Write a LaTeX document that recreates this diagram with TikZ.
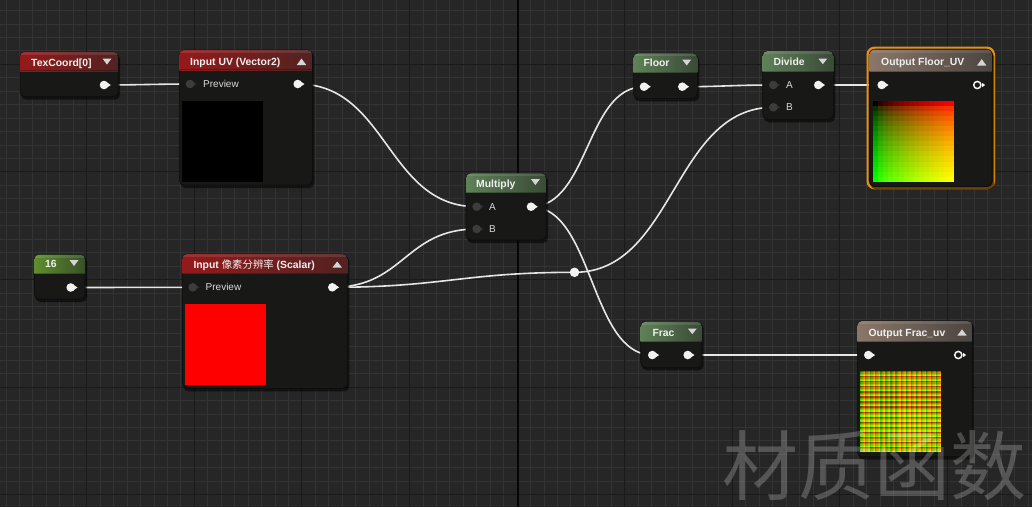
\documentclass[tikz,border=0pt]{standalone}
\usepackage{fontspec}
\setmainfont{Liberation Sans}
\newfontfamily\cjk{Noto Sans CJK SC}
\usetikzlibrary{fit}
\definecolor{bg}{HTML}{262626}
\definecolor{gridminor}{HTML}{333333}
\definecolor{gridmajor}{HTML}{1A1A1A}
\definecolor{gridorigin}{HTML}{060606}
\definecolor{bodycol}{HTML}{181917}
\definecolor{bordercol}{HTML}{0C0C0C}
\definecolor{redL}{HTML}{951A1A}
\definecolor{redR}{HTML}{522222}
\definecolor{grnL}{HTML}{5F8158}
\definecolor{grnR}{HTML}{3A4A37}
\definecolor{cstL}{HTML}{5E8F2C}
\definecolor{cstR}{HTML}{38502A}
\definecolor{outL}{HTML}{8A7769}
\definecolor{outR}{HTML}{4B4440}
\definecolor{pinfg}{HTML}{F2F2F2}
\definecolor{pingray}{HTML}{3C3C3C}
\definecolor{pingraytip}{HTML}{2E2E2E}
\definecolor{wirecol}{HTML}{E6E6E6}
\definecolor{selcol}{HTML}{E8900A}
\definecolor{tricol}{HTML}{D6D6D6}
\tikzset{
  uebody/.style={rounded corners=5pt, fill=bodycol, draw=bordercol, line width=0.6pt, inner sep=0pt},
  ttl/.style={anchor=base west, inner sep=0pt, text=white!94!black, font=\bfseries\fontsize{10.4}{12}\selectfont},
  lbl/.style={anchor=base west, inner sep=0pt, text=white!85!black, font=\fontsize{10}{12}\selectfont},
  wire/.style={draw=wirecol, line width=1.6pt},
  minorline/.style={draw=gridminor, line width=0.9pt},
  majorline/.style={draw=gridmajor, line width=1.1pt},
}
\newcommand{\uenode}[8]{%
  \fill[black,opacity=0.55,rounded corners=5pt] (#2+1,#3+2) rectangle (#4+2,#5+3);
  \node[uebody, fit={(#2,#3) (#4,#5)}] (#1) {};
  \begin{scope}
    \clip[rounded corners=5pt] (#2,#3) rectangle (#4,#5);
    \shade[left color=#7, right color=#8] (#2,#3) rectangle (#4,#6);
    \fill[white,opacity=0.10] (#2,#3) rectangle (#4,#3+3);
    \fill[black,opacity=0.25] (#2,#6-0.8) rectangle (#4,#6);
  \end{scope}
}
\newcommand{\pinw}[1]{%
  \fill[pinfg] (#1) circle (4.3);
  \fill[pinfg] ([shift={(3.2,-2.4)}]#1) -- ([shift={(6.8,0)}]#1) -- ([shift={(3.2,2.4)}]#1) -- cycle;
}
\newcommand{\ping}[1]{%
  \fill[pingraytip] ([shift={(3.2,-2.4)}]#1) -- ([shift={(6.8,0)}]#1) -- ([shift={(3.2,2.4)}]#1) -- cycle;
  \fill[pingray] (#1) circle (4.3);
}
\newcommand{\pinring}[1]{%
  \draw[pinfg, line width=1.5pt] (#1) circle (3.6);
  \fill[pinfg] ([shift={(4.8,-2.2)}]#1) -- ([shift={(7.8,0)}]#1) -- ([shift={(4.8,2.2)}]#1) -- cycle;
}
\newcommand{\tridown}[3]{\fill[tricol] (#1-4.5,#2) -- (#1+4.5,#2) -- (#1,#2+#3) -- cycle;}
\newcommand{\triup}[3]{\fill[tricol] (#1-4.7,#2) -- (#1+4.7,#2) -- (#1,#2-#3) -- cycle;}
\begin{document}
\begin{tikzpicture}[x=1pt,y=-1pt]
\useasboundingbox (0,0) rectangle (1032,507);
\fill[bg] (0,0) rectangle (1032,507);
% grid
\foreach \k in {0,...,76}{
  \pgfmathsetmacro\gx{6.0+\k*13.45}
  \draw[minorline] (\gx,0) -- (\gx,507);
}
\foreach \k in {0,...,37}{
  \pgfmathsetmacro\gy{10.5+\k*13.45}
  \draw[minorline] (0,\gy) -- (1032,\gy);
}
\foreach \k in {0,...,8}{
  \pgfmathsetmacro\gx{86.7+\k*107.6}
  \draw[majorline] (\gx,0) -- (\gx,507);
}
\foreach \k in {0,...,4}{
  \pgfmathsetmacro\gy{64.3+\k*107.6}
  \draw[majorline] (0,\gy) -- (1032,\gy);
}
\draw[gridorigin, line width=1.3pt] (518.1,0) -- (518.1,507);

% pin coordinates
\coordinate (texout) at (104,85);
\coordinate (uvin) at (190,84);
\coordinate (uvout) at (297.7,84);
\coordinate (sixout) at (70.7,287.5);
\coordinate (scin) at (192.7,287.3);
\coordinate (scout) at (332.3,287.3);
\coordinate (mulA) at (476.7,206.7);
\coordinate (mulB) at (476.7,229);
\coordinate (mulout) at (531,206.7);
\coordinate (floorin) at (644,86.7);
\coordinate (floorout) at (682.3,86.7);
\coordinate (divA) at (773.3,85);
\coordinate (divB) at (773.3,107.3);
\coordinate (divout) at (818.3,85);
\coordinate (ofin) at (881.7,85);
\coordinate (ofring) at (977.3,85);
\coordinate (fracin) at (652.3,355);
\coordinate (fracout) at (687.7,355);
\coordinate (ofrin) at (868.3,355);
\coordinate (ofrring) at (958.3,355);
\coordinate (knotpt) at (574.5,272.3);

% wires
\draw[wire] (texout) .. controls +(30,0) and +(-30,0) .. (uvin);
\draw[wire] (uvout) .. controls +(90,0) and +(-90,0) .. (mulA);
\draw[wire] (sixout) .. controls +(40,0) and +(-40,0) .. (scin);
\draw[wire] (scout) .. controls +(72,0) and +(-72,0) .. (mulB);
\draw[wire] (scout) .. controls +(110,0) and +(-110,0) .. (knotpt);
\draw[wire] (knotpt) .. controls +(100,0) and +(-100,0) .. (divB);
\draw[wire] (mulout) .. controls +(58,0) and +(-58,0) .. (floorin);
\draw[wire] (mulout) .. controls +(62,0) and +(-62,0) .. (fracin);
\draw[wire] (floorout) .. controls +(40,0) and +(-40,0) .. (divA);
\draw[wire] (divout) .. controls +(30,0) and +(-30,0) .. (ofin);
\draw[wire] (fracout) .. controls +(60,0) and +(-60,0) .. (ofrin);

% nodes
\uenode{texcoord}{20}{51.7}{118}{96.7}{71}{redL}{redR}
\node[ttl] (ttex) at (31,66.2) {TexCoord[0]};
\tridown{107}{58.5}{6}
\pinw{texout}

\uenode{inuv}{179.3}{50}{312.3}{185}{70}{redL}{redR}
\node[ttl] (tuv) at (190,65.2) {Input UV (Vector2)};
\triup{301.5}{65}{6.5}
\node[lbl] (luv) at (203,87.6) {Preview};
\fill[black] (182,101) rectangle (263.3,181.7);
\ping{uvin}
\pinw{uvout}

\uenode{const16}{34.3}{254.5}{85}{299}{273.5}{cstL}{cstR}
\node[ttl] (t16) at (45,267.7) {16};
\tridown{74}{260}{6}
\pinw{sixout}

\uenode{scalar}{182.3}{254}{347.3}{388.3}{273.5}{redL}{redR}
\node[ttl] (tsc) at (193.3,268) {Input {\cjk\mdseries 像素分辨率} (Scalar)};
\triup{337.2}{267.5}{6}
\node[lbl] (lsc) at (205.5,290.9) {Preview};
\fill[red] (185,304) rectangle (266,385);
\ping{scin}
\pinw{scout}

\uenode{mul}{466}{173.3}{546}{240}{192.3}{grnL}{grnR}
\node[ttl] (tmul) at (476,187) {Multiply};
\tridown{535.4}{179}{6}
\node[lbl] (lmA) at (489,210.3) {A};
\node[lbl] (lmB) at (489,232.6) {B};
\ping{mulA}
\ping{mulB}
\pinw{mulout}

\uenode{floor}{633.3}{53.3}{697.3}{98.3}{72.3}{grnL}{grnR}
\node[ttl] (tfl) at (643.3,66.8) {Floor};
\tridown{686.7}{59.5}{6}
\pinw{floorin}
\pinw{floorout}

\uenode{divide}{762.7}{51}{833.3}{119.3}{71.7}{grnL}{grnR}
\node[ttl] (tdv) at (773.3,65.9) {Divide};
\tridown{822.8}{58.5}{5.7}
\node[lbl] (ldA) at (786,88.6) {A};
\node[lbl] (ldB) at (786,110.9) {B};
\ping{divA}
\ping{divB}
\pinw{divout}

\draw[selcol, line width=2.2pt, rounded corners=7pt] (867.6,47.6) rectangle (993.9,188.2);
\uenode{ofloor}{869.5}{49.5}{992}{186.3}{71.7}{outL}{outR}
\node[ttl] (tof) at (881,65.9) {Output Floor\_UV};
\triup{981.7}{65.6}{6.5}
\foreach \i in {0,...,15}{
  \foreach \j in {0,...,15}{
    \pgfmathsetmacro\vr{(\i/15)^0.6}
    \pgfmathsetmacro\vg{(\j/15)^0.6}
    \definecolor{cc}{rgb}{\vr,\vg,0}
    \fill[cc] (873.3+\i*5.044,101+\j*5.044) rectangle +(5.1,5.1);
  }
}
\pinw{ofin}
\pinring{ofring}

\uenode{frac}{640.7}{321.7}{701.7}{367.3}{341.7}{grnL}{grnR}
\node[ttl] (tfr) at (652.3,336.3) {Frac};
\tridown{692.3}{328.5}{5.7}
\pinw{fracin}
\pinw{fracout}

\uenode{ofrac}{857.3}{321}{972.3}{456.7}{341.7}{outL}{outR}
\node[ttl] (tofr) at (868.3,336.3) {Output Frac\_uv};
\triup{962}{335.6}{6.3}
\foreach \a in {0,...,63}{
  \foreach \b in {0,...,63}{
    \pgfmathsetmacro\vr{((mod(\a,4)+0.5)/4)^0.6}
    \pgfmathsetmacro\vg{((mod(\b,4)+0.5)/4)^0.6}
    \definecolor{cc}{rgb}{\vr,\vg,0}
    \fill[cc] (860+\a*1.2656,371+\b*1.2656) rectangle +(1.32,1.32);
  }
}
\pinw{ofrin}
\pinring{ofrring}

% reroute knot
\node[circle, fill=pinfg, inner sep=0pt, minimum size=9.5pt] (knot) at (knotpt) {};

% watermark
\node[text=white, text opacity=0.22, inner sep=0pt, font=\cjk\fontsize{76}{78}\selectfont] (wm) at (874,466) {材质函数};
\end{tikzpicture}
\end{document}
